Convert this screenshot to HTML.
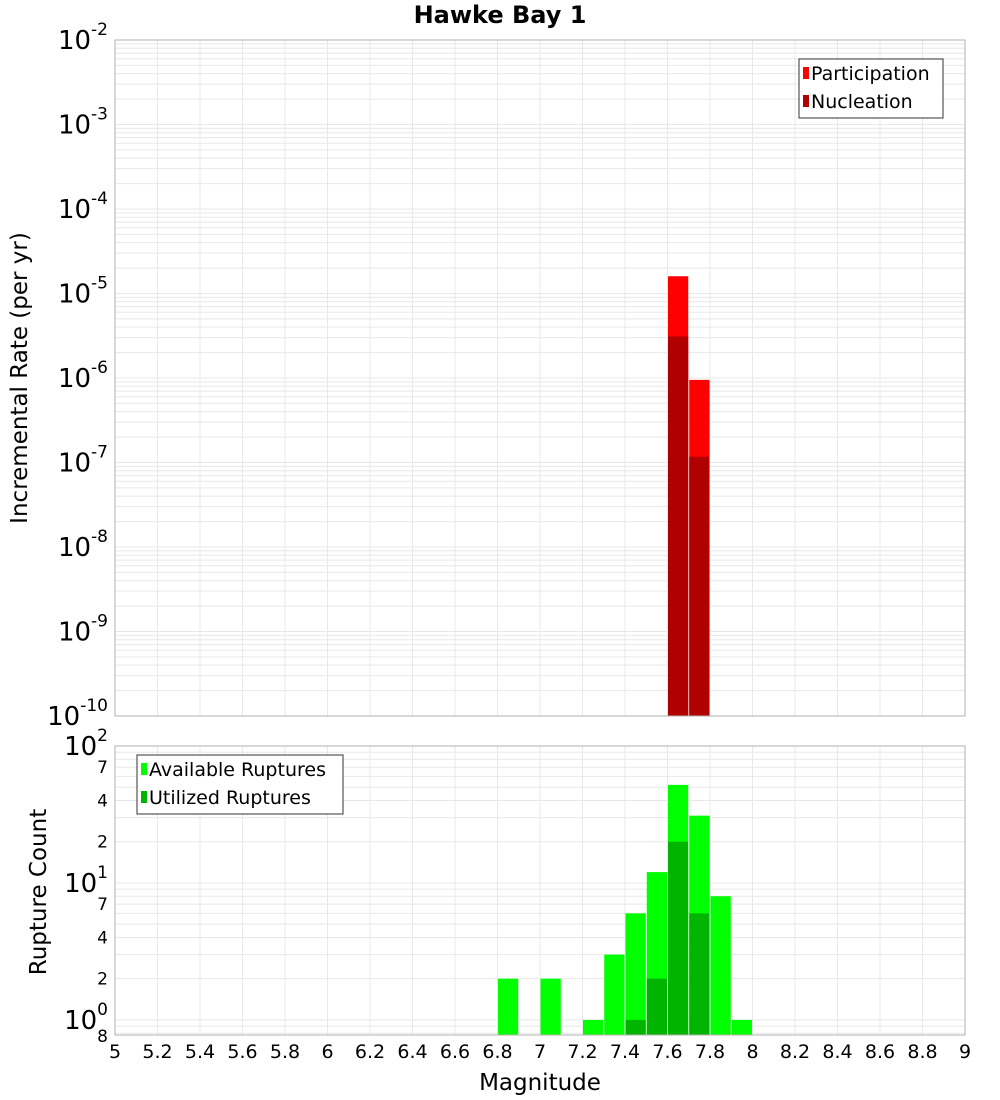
<!DOCTYPE html>
<html><head><meta charset="utf-8">
<style>body{margin:0;background:#fff;}svg{display:block;font-family:"DejaVu Sans","Liberation Sans",sans-serif;}</style>
</head><body>
<svg id="c" width="1000" height="1100"></svg>
<script>
const binCenters=[7.65,7.75];
const participation=[1.6e-5,9.5e-7];
const nucleation=[3.1e-6,1.17e-7];
const countBins=[6.85,7.05,7.25,7.35,7.45,7.55,7.65,7.75,7.85,7.95];
const available=[2,2,1,3,6,12,52,31,8,1];
const utilized=[0,0,0,0,1,2,20,6,0,0];
const xTicks=[5,5.2,5.4,5.6,5.8,6,6.2,6.4,6.6,6.8,7,7.2,7.4,7.6,7.8,8,8.2,8.4,8.6,8.8,9];
const topExps=[-10,-9,-8,-7,-6,-5,-4,-3,-2];
const botMinor=[2,4,7];

const NS='http://www.w3.org/2000/svg';
const svg=document.getElementById('c');
function el(tag,attrs,parent){const e=document.createElementNS(NS,tag);for(const k in attrs)e.setAttribute(k,attrs[k]);(parent||svg).appendChild(e);return e;}
const L=115,R=965;
const x=v=>L+(v-5)/4*(R-L);
const T1=40,B1=716;
const y1=v=>B1-(Math.log10(v)+10)/8*(B1-T1);
const T2=746,B2=1035,bMin=Math.log10(0.776);
const y2=v=>B2-(Math.log10(v)-bMin)/(2-bMin)*(B2-T2);

const t=el('text',{x:500,y:23,'text-anchor':'middle','font-size':24,'font-weight':'bold'});t.textContent='Hawke Bay 1';


const g=el('g',{stroke:'#e8e8e8','stroke-width':1});

xTicks.forEach(v=>{el('line',{x1:x(v),x2:x(v),y1:T1,y2:B1},g);el('line',{x1:x(v),x2:x(v),y1:T2,y2:B2},g);});
for(let e=-10;e<-2;e++)for(let m=1;m<10;m++){const yy=y1(m*Math.pow(10,e));el('line',{x1:L,x2:R,y1:yy,y2:yy},g);}
for(let e=-1;e<2;e++)for(let m=1;m<10;m++){const v=m*Math.pow(10,e);if(v<0.776)continue;const yy=y2(v);el('line',{x1:L,x2:R,y1:yy,y2:yy},g);}

const bw=(R-L)/40;
binCenters.forEach((c,i)=>{
 const r=el('rect',{x:x(c)-bw/2+0.5,y:y1(participation[i]),width:bw-1,height:B1-y1(participation[i]),fill:'#ff0000'});
 
 const n=el('rect',{x:x(c)-bw/2+0.5,y:y1(nucleation[i]),width:bw-1,height:B1-y1(nucleation[i]),fill:'#b00000'});
 
});
countBins.forEach((c,i)=>{
 if(available[i]>0){const r=el('rect',{x:x(c)-bw/2+0.5,y:y2(available[i]),width:bw-1,height:B2-y2(available[i]),fill:'#00ff00'});
 }
 if(utilized[i]>0){const u=el('rect',{x:x(c)-bw/2+0.5,y:y2(utilized[i]),width:bw-1,height:B2-y2(utilized[i]),fill:'#00b400'});
 }
});

const f1=el('rect',{x:L,y:T1,width:R-L,height:B1-T1,fill:'none',stroke:'#b0b0b0'});

const f2=el('rect',{x:L,y:T2,width:R-L,height:B2-T2,fill:'none',stroke:'#b0b0b0'});


topExps.forEach(e=>{const yy=y1(Math.pow(10,e));
 const tx=el('text',{x:108,y:yy+9,'text-anchor':'end','font-size':26});
 
 tx.innerHTML='10<tspan dy="-14" font-size="17">'+e+'</tspan>';
});
[[100,'10','2'],[10,'10','1'],[1,'10','0']].forEach(([v,b,s])=>{const yy=y2(v);
 const tx=el('text',{x:108,y:yy+9,'text-anchor':'end','font-size':26});
 
 tx.innerHTML=b+'<tspan dy="-14" font-size="17">'+s+'</tspan>';
});
[1,10].forEach(d=>botMinor.forEach(m=>{const tx=el('text',{x:108,y:y2(m*d)+6,'text-anchor':'end','font-size':17});
 tx.textContent=m;}));
const t8=el('text',{x:108,y:B2+7,'text-anchor':'end','font-size':17});t8.textContent='8';


xTicks.forEach(v=>{const tx=el('text',{x:x(v),y:1058,'text-anchor':'middle','font-size':19});
 
 tx.textContent=String(Math.round(v*10)/10);});
const xt=el('text',{x:540,y:1090,'text-anchor':'middle','font-size':23});xt.textContent='Magnitude';

const yt=el('text',{x:0,y:0,'text-anchor':'middle','font-size':23,transform:'translate(27,378) rotate(-90)'});yt.textContent='Incremental Rate (per yr)';

const yt2=el('text',{x:0,y:0,'text-anchor':'middle','font-size':23,transform:'translate(46,892) rotate(-90)'});yt2.textContent='Rupture Count';


function legend(x0,y0,w,h,items,name){
 const lg=el('g',{});
 el('rect',{x:x0,y:y0,width:w,height:h,fill:'#fff',stroke:'#333'},lg);
 items.forEach(([c,label],i)=>{const yy=y0+15+i*28;
  el('rect',{x:x0+4,y:yy-7,width:6,height:12,fill:c},lg);
  const tx=el('text',{x:x0+12,y:yy+6,'font-size':19},lg);tx.textContent=label;
  });
}
legend(799,59,144,59,[['#ff0000','Participation'],['#b00000','Nucleation']],'top-legend');
legend(137,755,206,59,[['#00ff00','Available Ruptures'],['#00b400','Utilized Ruptures']],'bottom-legend');
</script>
</body></html>
